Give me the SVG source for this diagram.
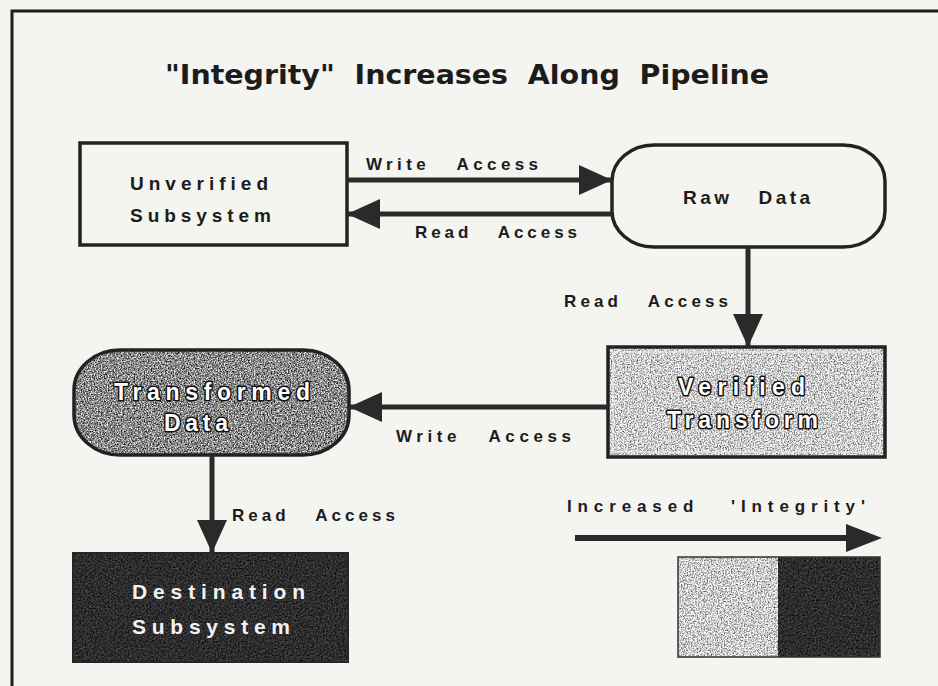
<svg xmlns="http://www.w3.org/2000/svg" width="938" height="686" viewBox="0 0 938 686">
  <style>
    text { white-space: pre; }
    .frame { stroke: #1e1e1e; stroke-width: 3; fill: none; }
    .title { font-family: "DejaVu Sans Condensed", "DejaVu Sans", sans-serif; font-size: 26px; font-weight: bold; fill: #1c1c1c; }
    .lbl { font-family: "Liberation Sans", Arial, sans-serif; font-size: 17px; font-weight: bold; fill: #1c1c1c; }
    .ntxt { font-family: "Liberation Sans", Arial, sans-serif; font-size: 19px; font-weight: bold; fill: #1c1c1c; }
    .otxt { font-family: "Liberation Sans", Arial, sans-serif; font-size: 23px; font-weight: bold; fill: #ffffff; stroke: #111; stroke-width: 3; paint-order: stroke; stroke-linejoin: round; }
    .wtxt { font-family: "Liberation Sans", Arial, sans-serif; font-size: 21px; font-weight: bold; fill: #f2f2f2; }
    .box { fill: none; stroke: #222; stroke-width: 3.5; }
    .conn { stroke: #2a2a2a; stroke-width: 5; fill: none; marker-end: url(#head); }
    filter { color-interpolation-filters: sRGB; }
  </style>
  <defs>
    <marker id="head" markerUnits="userSpaceOnUse" markerWidth="34" markerHeight="32" refX="33" refY="16" orient="auto">
      <path d="M0,1 L33,16 L0,31 Z" fill="#2a2a2a"/>
    </marker>
    <!-- speckled fills: fractal noise mapped to grey levels and clipped to the shape -->
    <filter id="grain-light" x="0" y="0" width="1" height="1" color-interpolation-filters="sRGB">
      <feTurbulence type="fractalNoise" baseFrequency="0.7" numOctaves="3" seed="4" result="n"/>
      <feColorMatrix in="n" type="matrix" values="1.4 0 0 0 0.1  1.4 0 0 0 0.1  1.4 0 0 0 0.1  0 0 0 0 1" result="g"/>
      <feComposite in="g" in2="SourceGraphic" operator="in"/>
    </filter>
    <filter id="grain-mid" x="0" y="0" width="1" height="1" color-interpolation-filters="sRGB">
      <feTurbulence type="fractalNoise" baseFrequency="0.7" numOctaves="3" seed="9" result="n"/>
      <feColorMatrix in="n" type="matrix" values="1.6 0 0 0 -0.26  1.6 0 0 0 -0.26  1.6 0 0 0 -0.26  0 0 0 0 1" result="g"/>
      <feComposite in="g" in2="SourceGraphic" operator="in"/>
    </filter>
    <filter id="grain-dark" x="0" y="0" width="1" height="1" color-interpolation-filters="sRGB">
      <feTurbulence type="fractalNoise" baseFrequency="0.6" numOctaves="2" seed="2" result="n"/>
      <feColorMatrix in="n" type="matrix" values="0.45 0 0 0 -0.05  0.45 0 0 0 -0.05  0.45 0 0 0 -0.05  0 0 0 0 1" result="g"/>
      <feComposite in="g" in2="SourceGraphic" operator="in"/>
    </filter>
  </defs>

  <!-- page -->
  <rect x="0" y="0" width="938" height="686" fill="#f4f4f0"/>
  <path class="frame" d="M12,686 L12,11 L938,11"/>

  <text class="title" x="165" y="84" textLength="604" lengthAdjust="spacingAndGlyphs">"Integrity"  Increases  Along  Pipeline</text>

  <!-- nodes -->
  <g id="unverified-subsystem">
    <rect class="box" x="80" y="143" width="267" height="102" fill="#f4f4f0"/>
    <text class="ntxt" x="130" y="190" textLength="138" lengthAdjust="spacing">Unverified</text>
    <text class="ntxt" x="130" y="222" textLength="141" lengthAdjust="spacing">Subsystem</text>
  </g>

  <g id="raw-data">
    <rect class="box" x="612" y="145" width="273" height="102" rx="42" ry="36" fill="#f4f4f0"/>
    <text class="ntxt" x="683" y="204" textLength="127" lengthAdjust="spacing">Raw   Data</text>
  </g>

  <g id="verified-transform">
    <rect x="608" y="347" width="277" height="110" fill="#c8c8c8" filter="url(#grain-light)"/>
    <rect x="613" y="352" width="267" height="100" fill="none" stroke="#f0f0f0" stroke-width="1.5" opacity="0.7"/>
    <rect class="box" x="608" y="347" width="277" height="110" stroke-width="4.5"/>
    <text class="otxt" x="678" y="395" textLength="127" lengthAdjust="spacing">Verified</text>
    <text class="otxt" x="667" y="428" textLength="151" lengthAdjust="spacing">Transform</text>
  </g>

  <g id="transformed-data">
    <rect x="74" y="350" width="275" height="105" rx="46" ry="40" fill="#8c8c8c" filter="url(#grain-mid)"/>
    <rect class="box" x="74" y="350" width="275" height="105" rx="46" ry="40" stroke-width="4"/>
    <text class="otxt" x="114" y="400" textLength="196" lengthAdjust="spacing">Transformed</text>
    <text class="otxt" x="164" y="431" textLength="64" lengthAdjust="spacing">Data</text>
  </g>

  <g id="destination-subsystem">
    <rect x="73" y="553" width="275" height="109" fill="#2c2c2c" filter="url(#grain-dark)"/>
    <rect x="73" y="553" width="275" height="109" fill="none" stroke="#262626" stroke-width="2"/>
    <text class="wtxt" x="132" y="599" textLength="173" lengthAdjust="spacing">Destination</text>
    <text class="wtxt" x="132" y="634" textLength="158" lengthAdjust="spacing">Subsystem</text>
  </g>

  <!-- connectors -->
  <g id="connectors">
    <line class="conn" x1="347" y1="180" x2="612" y2="180"/>
    <line class="conn" x1="612" y1="214" x2="347" y2="214"/>
    <line class="conn" x1="748" y1="247" x2="748" y2="347"/>
    <line class="conn" x1="608" y1="407" x2="349" y2="407"/>
    <line class="conn" x1="212" y1="455" x2="212" y2="553"/>
  </g>

  <!-- connector labels -->
  <g id="connector-labels">
    <text class="lbl" x="366" y="170" textLength="172" lengthAdjust="spacing">Write   Access</text>
    <text class="lbl" x="415" y="238" textLength="162" lengthAdjust="spacing">Read   Access</text>
    <text class="lbl" x="564" y="307" textLength="164" lengthAdjust="spacing">Read   Access</text>
    <text class="lbl" x="396" y="442" textLength="175" lengthAdjust="spacing">Write   Access</text>
    <text class="lbl" x="232" y="521" textLength="163" lengthAdjust="spacing">Read   Access</text>
  </g>

  <!-- legend: integrity scale -->
  <g id="legend">
    <text class="lbl" x="567" y="512" textLength="298" lengthAdjust="spacing">Increased   'Integrity'</text>
    <line x1="575" y1="538" x2="850" y2="538" stroke="#2a2a2a" stroke-width="6"/>
    <path d="M846,524 L882,538 L846,552 Z" fill="#2a2a2a"/>
    <rect x="678" y="557" width="100" height="100" fill="#c4c4c4" filter="url(#grain-light)"/>
    <rect x="778" y="557" width="102" height="100" fill="#2e2e2e" filter="url(#grain-dark)"/>
    <rect x="678" y="557" width="202" height="100" fill="none" stroke="#333" stroke-width="1.5"/>
  </g>
</svg>
